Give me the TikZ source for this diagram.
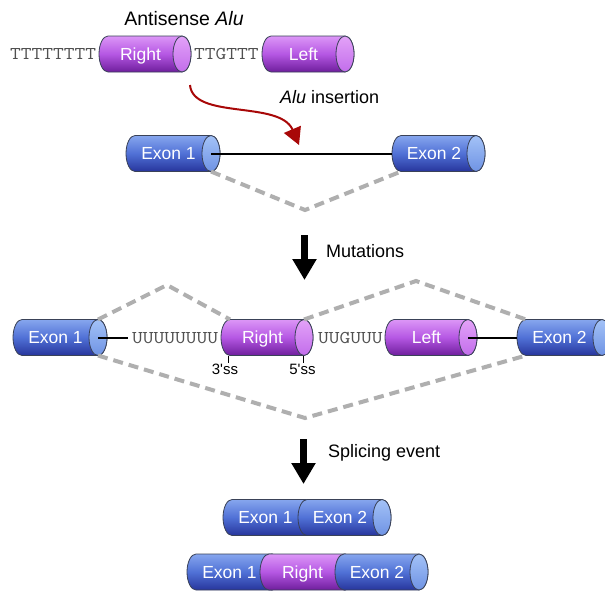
\documentclass[tikz,border=0pt]{standalone}
\usepackage{fontspec}
\usepackage{graphicx}
\setmainfont{Liberation Sans}
\usetikzlibrary{arrows.meta}
\definecolor{bluetop}{HTML}{86A6EE}
\definecolor{bluemid}{HTML}{5071D6}
\definecolor{bluebot}{HTML}{27359C}
\definecolor{blueendA}{HTML}{A3C2F7}
\definecolor{blueendB}{HTML}{6F93E4}
\definecolor{purtop}{HTML}{DC96F7}
\definecolor{purmid}{HTML}{B557E3}
\definecolor{purbot}{HTML}{6E1E9C}
\definecolor{purendA}{HTML}{E3A2F8}
\definecolor{purendB}{HTML}{C26DEB}
\definecolor{cyledge}{HTML}{3A4258}
\definecolor{dashgray}{HTML}{AFAFAF}
\definecolor{arrowred}{HTML}{A80808}
\definecolor{seqgray}{HTML}{505050}
\newcommand\seqstr[1]{\scalebox{1.16}[1]{#1}}
\tikzset{
  cylline/.style={draw=cyledge, line width=0.8pt},
  bluebody/.style={top color=bluetop, bottom color=bluebot, middle color=bluemid},
  blueend/.style={top color=blueendA, bottom color=blueendB},
  purbody/.style={top color=purtop, bottom color=purbot, middle color=purmid},
  purend/.style={top color=purendA, bottom color=purendB},
  cyltext/.style={text=white, font=\fontsize{17.5}{20}\selectfont, inner sep=0pt, text height=12.5pt, text depth=0pt},
  seqtext/.style={text=seqgray, font=\ttfamily\fontsize{18}{20}\selectfont, inner sep=0pt, anchor=west, text height=11pt, text depth=0pt},
  label/.style={text=black, font=\fontsize{18}{22}\selectfont, inner sep=0pt},
  sslabel/.style={text=black, font=\fontsize{15}{18}\selectfont, inner sep=0pt, anchor=north},
  link/.style={draw=black, line width=2pt},
  tickline/.style={draw=black, line width=1pt},
  splice/.style={draw=dashgray, line width=4pt, dash pattern=on 10pt off 6pt},
  bigarrow/.style={draw=black, line width=7pt, -{Triangle[length=21pt,width=23pt]}},
  redarrow/.style={draw=arrowred, line width=2pt, -{Triangle[length=17pt,width=18pt]}},
}
% #1 name, #2 left x, #3 right x, #4 centre y, #5 blue/pur, #6 text
\newcommand\cylbox[6]{%
  \shade[#5body,cylline] (#2+9,#4-18) -- (#3-9,#4-18)
     arc[start angle=-90,end angle=90,x radius=9,y radius=18]
     -- (#2+9,#4+18)
     arc[start angle=90,end angle=270,x radius=9,y radius=18] -- cycle;
  \shade[#5end,cylline] (#3-9,#4) ellipse[x radius=9,y radius=18];
  \node[cyltext] (#1) at ({(#2+#3-9)/2},#4) {#6};
  \coordinate (#1-e) at (#3-9,#4);
  \coordinate (#1-w) at (#2,#4);
  \coordinate (#1-ne) at (#3-9,#4-18);
  \coordinate (#1-se) at (#3-9,#4+18);
  \coordinate (#1-nw) at (#2+9,#4-18);
  \coordinate (#1-sw) at (#2+9,#4+18);
}
\begin{document}
\begin{tikzpicture}[x=1pt,y=-1pt]
\useasboundingbox (0,0) rectangle (605,590);
\fill[white] (0,0) rectangle (605,590);

% ---------- top: antisense Alu ----------
\node[label, font=\fontsize{19.5}{22}\selectfont] (antisense) at (184,19) {Antisense \textit{Alu}};
\node[seqtext] (polyT) at (10,54) {\seqstr{TTTTTTTT}};
\cylbox{aR}{99}{191}{54}{pur}{Right}
\node[seqtext] (ttg) at (194,54) {\seqstr{TTGTTT}};
\cylbox{aL}{262}{354}{54}{pur}{Left}

% red insertion arrow
\coordinate (ra1) at (190,85);
\coordinate (ra2) at (299,145);
\draw[redarrow] (ra1) .. controls (193,120) and (280,100) .. (ra2);
\node[label, anchor=west] (ins) at (280,97) {\textit{Alu} insertion};

% ---------- gene ----------
\coordinate (v1) at (305,210);
\cylbox{gE1}{126}{220}{153.5}{blue}{Exon 1}
\cylbox{gE2}{392}{485}{153.5}{blue}{Exon 2}
\draw[link] (gE1-e) -- (gE2-w);
\draw[splice] (gE1-se) -- (v1) -- (gE2-sw);

% mutations arrow
\coordinate (m1) at (304.5,235);
\coordinate (m2) at (304.5,280);
\draw[bigarrow] (m1) -- (m2);
\node[label, anchor=west] (mut) at (326,251) {Mutations};

% ---------- mutated gene ----------
\cylbox{mE1}{13}{107}{337.5}{blue}{Exon 1}
\node[seqtext] (polyU) at (132,337.5) {\seqstr{UUUUUUUU}};
\cylbox{mR}{221}{313}{337.5}{pur}{Right}
\node[seqtext] (uug) at (318,337.5) {\seqstr{UUGUUU}};
\cylbox{mL}{385}{477}{337.5}{pur}{Left}
\cylbox{mE2}{517}{611}{337.5}{blue}{Exon 2}
\coordinate (pu) at (128,337.5);
\draw[link] (mE1-e) -- (pu);
\draw[link] (mL-e) -- (mE2-w);

\coordinate (p1) at (167,285);
\coordinate (p2) at (416,281);
\coordinate (p3) at (305,418);
\draw[splice] (mE1-ne) -- (p1) -- (mR-nw);
\draw[splice] (mR-ne) -- (p2) -- (mE2-nw);
\draw[splice] (mE1-se) -- (p3) -- (mE2-sw);

% splice sites
\coordinate (s3a) at (228,355.5);
\coordinate (s3b) at (228,363);
\coordinate (s5a) at (303,355.5);
\coordinate (s5b) at (303,363);
\draw[tickline] (s3a) -- (s3b);
\draw[tickline] (s5a) -- (s5b);
\node[sslabel] (ss3) at (225,363.5) {3\textquotesingle ss};
\node[sslabel] (ss5) at (302.5,363.5) {5\textquotesingle ss};

% splicing arrow
\coordinate (k1) at (303.5,439);
\coordinate (k2) at (303.5,484);
\draw[bigarrow] (k1) -- (k2);
\node[label, anchor=west] (splev) at (328,453) {Splicing event};

% ---------- products ----------
\cylbox{pA1}{223}{317}{517.5}{blue}{Exon 1}
\cylbox{pA2}{298}{391}{517.5}{blue}{Exon 2}

\cylbox{pB1}{187}{281}{572}{blue}{Exon 1}
\cylbox{pBR}{260}{354}{572}{pur}{Right}
\cylbox{pB2}{335}{428}{572}{blue}{Exon 2}
\end{tikzpicture}
\end{document}
